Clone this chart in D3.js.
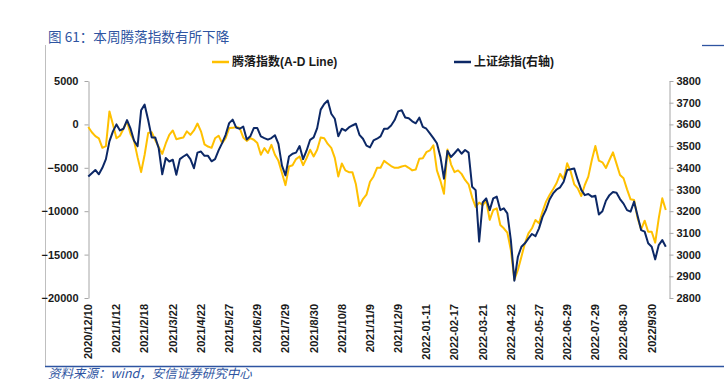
<!DOCTYPE html>
<html>
<head>
<meta charset="utf-8">
<script src="https://cdn.jsdelivr.net/npm/d3@7"></script>
<style>
  body { margin: 0; background: #fff; }
  svg { display: block; }
</style>
</head>
<body>
<div id="chart"></div>
<script>
// 腾落指数 vs 上证综指 — one value every ~2.75 trading days

const xLabels = [
  "2020/12/10", "2021/1/12", "2021/2/18", "2021/3/22", "2021/4/22", "2021/5/27", "2021/6/29",
  "2021/7/29", "2021/8/30", "2021/10/8", "2021/11/9", "2021/12/9", "2022-01-11", "2022-02-17",
  "2022-03-21", "2022-04-22", "2022-05-27", "2022-06-29", "2022-07-29", "2022-08-30", "2022/9/30"
];
const stepsPerLabel = 8;

const adLine = [
  -300, -900, -1350, -1600, -2700, -2500, 1500, 0, -1600, -1300,
  -500, 350, -1100, -1900, -3800, -5500, -3500, -1000, -900, -1800,
  -2600, -3400, -2200, -1200, -700, -1700, -1600, -1500, -800, -1200,
  -700, 100, -800, -2300, -2550, -2700, -1600, -1300, -2150, -1580,
  -420, -400, -300, -420, -1500, -1900, -1580, -1770, -2150, -3500,
  -2730, -3300, -2350, -3500, -4200, -5600, -7000, -4850, -4700, -4000,
  -3690, -4700, -3880, -2920, -3690, -2920, -1500, -1600, -2250, -2700,
  -3850, -6000, -4500, -5300, -5500, -5500, -6900, -9400, -8600, -8100,
  -6600, -6000, -5000, -5000, -4200, -4500, -4800, -5000, -5000, -4850,
  -4750, -5000, -5300, -5200, -3950, -3900, -3200, -3000, -2400, -5300,
  -6500, -8000, -2900, -4600, -5500, -5300, -5700, -6400, -6900, -8400,
  -9500, -9000, -9300, -8800, -11000, -9860, -9670, -11590, -11970, -12470,
  -14470, -17900, -16770, -15240, -13700, -12550, -11970, -11010, -11400, -10050,
  -8900, -8130, -7480, -6750, -5700, -6330, -4485, -5445, -6900, -7365,
  -8250, -6980, -6020, -4100, -2490, -4180, -4370, -5020, -4100, -3220,
  -4520, -5830, -6210, -7480, -8630, -8710, -10820, -12090, -11090, -12360,
  -12360, -13620, -10820, -8520, -9860
];

const shIndex = [
  3360, 3375, 3390, 3370, 3400, 3440, 3522, 3568, 3600, 3572,
  3580, 3620, 3580, 3525, 3500, 3665, 3691, 3620, 3540, 3540,
  3490, 3370, 3445, 3429, 3437, 3368, 3440, 3452, 3462, 3440,
  3398, 3470, 3475, 3455, 3455, 3430, 3440, 3480, 3514, 3552,
  3606, 3622, 3585, 3580, 3590, 3530, 3545, 3583, 3583, 3545,
  3537, 3530, 3537, 3550, 3510, 3410, 3365, 3452, 3465, 3470,
  3500, 3440, 3480, 3529, 3540, 3583, 3668, 3694, 3710, 3649,
  3626, 3545, 3580, 3571, 3586, 3595, 3603, 3552, 3534, 3502,
  3494, 3526, 3534, 3545, 3580, 3580, 3595, 3620, 3660, 3665,
  3632, 3628, 3614, 3605, 3631, 3589, 3580, 3559, 3537, 3513,
  3450, 3350, 3478, 3450, 3467, 3486, 3465, 3482, 3470, 3313,
  3297, 3060, 3240, 3259, 3205, 3259, 3267, 3205, 3213, 3190,
  3067, 2880, 2990, 3036, 3052, 3075, 3095, 3085, 3121, 3174,
  3208, 3254, 3282, 3300, 3310, 3336, 3390, 3393, 3397, 3344,
  3298, 3274, 3279, 3267, 3271, 3185, 3200, 3248, 3274, 3288,
  3285, 3256, 3235, 3205, 3198, 3244, 3178, 3113, 3106, 3052,
  3036, 2978, 3044, 3067, 3036
];

const leftTicks = [5000, 0, -5000, -10000, -15000, -20000];
const rightTicks = [3800, 3700, 3600, 3500, 3400, 3300, 3200, 3100, 3000, 2900, 2800];
const seriesNames = ["腾落指数(A-D Line)", "上证综指(右轴)"];

const W = 724, H = 383;
const colors = { ad: "#FFC000", sh: "#0C2866" };
const latin = "'Liberation Sans', Arial, 'Noto Sans CJK SC', sans-serif";
const cjk = "'Noto Sans CJK SC', 'Liberation Sans', sans-serif";

const svg = d3.select("#chart").append("svg").attr("width", W).attr("height", H);

// frame bits of the report page
svg.append("line").attr("x1", 45.5).attr("x2", 45.5).attr("y1", 45).attr("y2", 366)
  .attr("stroke", "#bfbfbf").attr("stroke-width", 1);
svg.append("line").attr("x1", 45).attr("x2", W).attr("y1", 366.5).attr("y2", 366.5)
  .attr("stroke", "#2E54A1").attr("stroke-width", 1.3);
svg.append("line").attr("x1", 702).attr("x2", W).attr("y1", 45.5).attr("y2", 45.5)
  .attr("stroke", "#2E54A1").attr("stroke-width", 1.3);

svg.append("text").attr("x", 48).attr("y", 42)
  .attr("font-family", cjk).attr("font-size", 13.6).attr("fill", "#2E54A1")
  .text("图 61：本周腾落指数有所下降");
svg.append("text").attr("x", 48).attr("y", 378)
  .attr("font-family", cjk).attr("font-size", 12.5).attr("font-style", "italic").attr("fill", "#2E54A1")
  .text("资料来源：wind，安信证券研究中心");

// scales
const x = d3.scaleLinear().domain([0, (xLabels.length - 1) * stepsPerLabel]).range([88.3, 651.7]);
const yL = d3.scaleLinear().domain([-20000, 5000]).range([298, 81]);
const yR = d3.scaleLinear().domain([2800, 3800]).range([298, 81]);

const axL = svg.append("g").attr("transform", "translate(88.5,0)")
  .call(d3.axisLeft(yL).tickValues(leftTicks).tickFormat(d3.format("d"))
    .tickSize(4).tickSizeOuter(0).tickPadding(6));
const axR = svg.append("g").attr("transform", "translate(669.5,0)")
  .call(d3.axisRight(yR).tickValues(rightTicks).tickFormat(d3.format("d"))
    .tickSize(4).tickSizeOuter(0).tickPadding(3));
[axL, axR].forEach(ax => {
  ax.select(".domain").attr("stroke", "#a6a6a6");
  ax.selectAll(".tick line").attr("stroke", "#a6a6a6");
  ax.selectAll(".tick text").attr("fill", "#1a1a1a").attr("font-family", latin)
    .attr("font-size", 11).attr("font-weight", "bold");
});

// rotated category labels
svg.append("g").selectAll("text").data(xLabels).enter().append("text")
  .attr("transform", (d, k) => `translate(${x(k * stepsPerLabel)},304) rotate(-90)`)
  .attr("text-anchor", "end").attr("dy", "0.35em")
  .attr("font-family", latin).attr("font-size", 11).attr("font-weight", "bold").attr("fill", "#1a1a1a")
  .text(d => d);

// series
const lineAD = d3.line().x((d, i) => x(i)).y(d => yL(d));
const lineSH = d3.line().x((d, i) => x(i)).y(d => yR(d));
svg.append("path").datum(adLine).attr("d", lineAD).attr("fill", "none")
  .attr("stroke", colors.ad).attr("stroke-width", 2).attr("stroke-linejoin", "round");
svg.append("path").datum(shIndex).attr("d", lineSH).attr("fill", "none")
  .attr("stroke", colors.sh).attr("stroke-width", 2).attr("stroke-linejoin", "round");

// legend
const legend = svg.append("g");
const legendItems = [
  { name: seriesNames[0], color: colors.ad, x: 212 },
  { name: seriesNames[1], color: colors.sh, x: 454 }
];
legendItems.forEach(it => {
  legend.append("line").attr("x1", it.x).attr("x2", it.x + 17).attr("y1", 62).attr("y2", 62)
    .attr("stroke", it.color).attr("stroke-width", 2.5);
  legend.append("text").attr("x", it.x + 20).attr("y", 62).attr("dy", "0.36em")
    .attr("font-family", latin).attr("font-size", 12).attr("font-weight", "bold").attr("fill", "#1a1a1a")
    .text(it.name);
});
</script>
</body>
</html>
